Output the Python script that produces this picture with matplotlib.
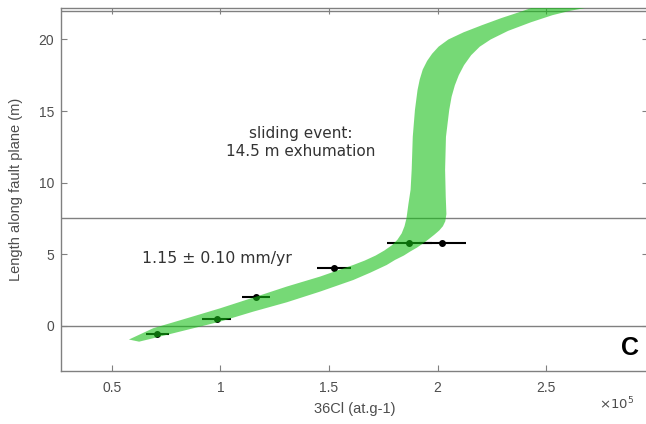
import numpy as np
import matplotlib
matplotlib.use("Agg")
import matplotlib.pyplot as plt

# 36Cl concentrations (x10^5 at/g), position along the fault plane (m)
sample_cl = [0.709, 0.982, 1.162, 1.524, 1.870, 2.022]
sample_len = [-0.55, 0.47, 2.01, 4.01, 5.80, 5.80]
sample_err = [0.053, 0.068, 0.064, 0.078, 0.105, 0.108]

# Modelled envelope: upper-left boundary (x, y)
env_left_x = [0.578, 0.690, 0.844, 0.998, 1.151, 1.305, 1.459, 1.612, 1.665, 1.715,
              1.755, 1.790, 1.815, 1.835, 1.848, 1.857, 1.866, 1.876, 1.881, 1.886,
              1.896, 1.908, 1.918, 1.932, 1.952, 1.975, 2.005, 2.050, 2.120, 2.205,
              2.295, 2.375, 2.470]
env_left_y = [-0.97, -0.18, 0.51, 1.21, 1.96, 2.73, 3.43, 4.24, 4.55, 4.90,
              5.25, 5.62, 6.00, 6.45, 6.95, 7.50, 8.50, 9.50, 10.9, 13.2,
              15.07, 16.47, 17.2, 17.9, 18.5, 19.0, 19.5, 20.0, 20.5, 21.0,
              21.5, 21.9, 22.4]
# Modelled envelope: lower-right boundary (x, y)
env_right_x = [0.625, 0.690, 0.844, 0.998, 1.151, 1.305, 1.459, 1.612, 1.690, 1.766,
               1.804, 1.845, 1.873, 1.905, 1.935, 1.960, 1.985, 2.008, 2.025, 2.036,
               2.041, 2.038, 2.035, 2.039, 2.054, 2.065, 2.080, 2.098, 2.122, 2.155,
               2.195, 2.245, 2.325, 2.430, 2.530, 2.610, 2.750]
env_right_y = [-1.12, -0.88, -0.30, 0.28, 0.98, 1.63, 2.38, 3.19, 3.70, 4.24,
               4.59, 4.90, 5.17, 5.45, 5.76, 6.05, 6.35, 6.65, 6.95, 7.30,
               7.80, 9.00, 10.9, 13.2, 15.07, 16.0, 16.8, 17.5, 18.2, 18.9,
               19.5, 20.0, 20.6, 21.2, 21.7, 22.0, 22.4]

ref_levels = [0.0, 7.5, 22.0]
x_ticks = [0.5, 1.0, 1.5, 2.0, 2.5]
x_ticklabels = ["0.5", "1", "1.5", "2", "2.5"]
y_ticks = [0, 5, 10, 15, 20]

grey = "#808080"
label_col = "#4d4d4d"

fig = plt.figure(figsize=(6.46, 4.24), dpi=100)
ax = fig.add_axes([61 / 646, 1 - 371 / 424, 587 / 646, 363 / 424])

for lvl in ref_levels:
    ax.axhline(lvl, color=grey, lw=1.0, zorder=1)

ax.errorbar(sample_cl, sample_len, xerr=sample_err, fmt="o", color="black",
            ms=4, lw=1.5, capsize=0, zorder=2)

poly_x = np.r_[env_left_x, env_right_x[::-1]]
poly_y = np.r_[env_left_y, env_right_y[::-1]]
ax.fill(poly_x, poly_y, color=(0.08, 0.75, 0.08), alpha=0.58, lw=0, zorder=3)

ax.set_xlim(0.265, 2.97)
ax.set_ylim(-3.17, 22.2)
ax.set_xticks(x_ticks)
ax.set_xticklabels(x_ticklabels)
ax.set_yticks(y_ticks)

for s in ax.spines.values():
    s.set_color(grey)
    s.set_linewidth(1.0)
ax.tick_params(direction="in", length=4, width=0.8, color=grey,
               top=True, right=True, labelsize=10, labelcolor=label_col,
               labelfontfamily="Liberation Sans")
ax.tick_params(axis="x", pad=7)
ax.tick_params(axis="y", pad=5)

ax.set_xlabel("36Cl (at.g-1)", fontsize=10.5, color=label_col,
              family="Liberation Sans", labelpad=5)
ax.set_ylabel("Length along fault plane (m)", fontsize=10.5, color=label_col,
              family="Liberation Sans", labelpad=11)

ax.text(1.37, 12.8, "sliding event:\n14.5 m exhumation", ha="center", va="center",
        fontsize=11, color="#333333", family="DejaVu Sans", linespacing=1.25)
ax.text(0.982, 4.7, "1.15 \u00b1 0.10 mm/yr", ha="center", va="center",
        fontsize=11.3, color="#333333", family="DejaVu Sans")
ax.text(2.887, -1.55, "C", ha="center", va="center", fontsize=18,
        fontweight="heavy", color="black", family=["Liberation Sans", "DejaVu Sans"])

fig.text(617 / 646, 1 - 404 / 424, r"$\times10^{5}$", ha="center", va="center",
         fontsize=9.5, color=label_col)

fig.savefig("out.png", dpi=100)
